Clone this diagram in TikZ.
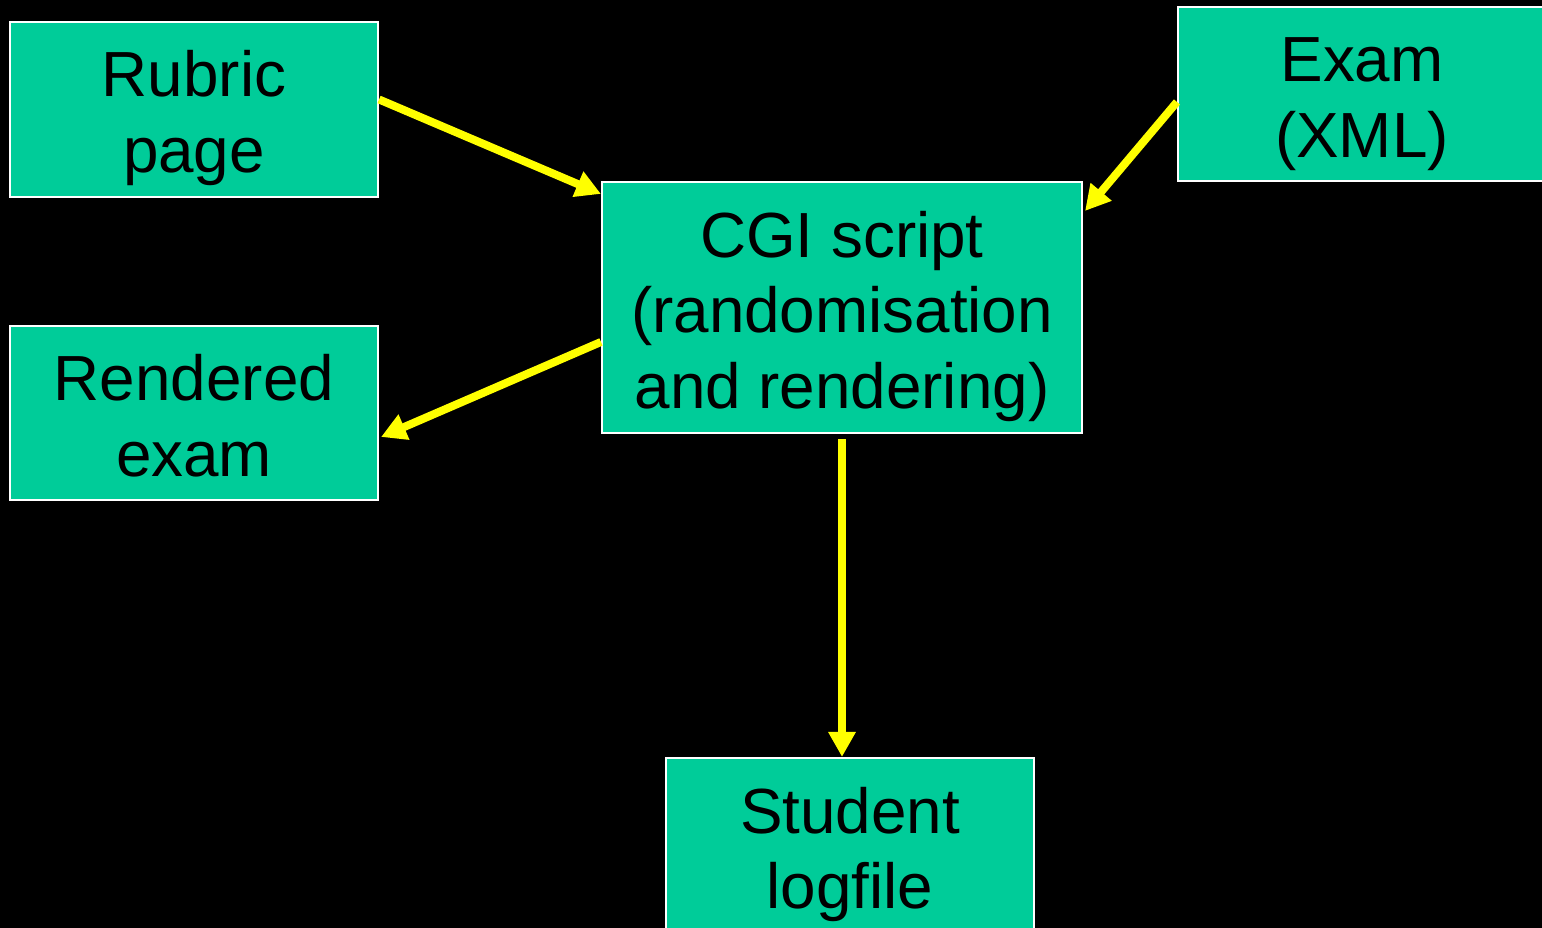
\documentclass[tikz,border=0pt]{standalone}
\usepackage{fontspec}
\setmainfont{Liberation Sans}
\usetikzlibrary{arrows.meta}
\definecolor{boxgreen}{HTML}{00CC99}
\definecolor{arrowyellow}{HTML}{FFFF00}
\newcommand{\boxtop}{\rule{0pt}{19pt}}
\newcommand{\boxbot}{\rule[-4.5pt]{0pt}{0pt}}
\begin{document}
\begin{tikzpicture}[>={Triangle[width=0.26cm,length=0.25cm]},
    box/.style={draw=white,line width=0.6pt,fill=boxgreen,align=center,
      inner sep=0pt,font=\fontsize{18.15}{21.6}\selectfont},
    link/.style={->,draw=arrowyellow,line width=0.08cm}]
    \useasboundingbox (0,0) rectangle (15.42,9.28);
    \clip (0,0) rectangle (15.42,9.28);
    \fill[black] (0,0) rectangle (15.42,9.28);
    \node[box,minimum width=3.68cm,minimum height=1.75cm] (rubric) at (1.94,8.185) {\boxtop Rubric\\page\boxbot};
    \node[box,minimum width=3.68cm,minimum height=1.74cm] (exam) at (13.62,8.34) {\boxtop Exam\\(XML)\boxbot};
    \node[box,minimum width=4.80cm,minimum height=2.51cm] (cgi) at (8.42,6.205) {\boxtop CGI script\\(randomisation\\and rendering)\boxbot};
    \node[box,minimum width=3.68cm,minimum height=1.74cm] (rendered) at (1.94,5.15) {\boxtop Rendered\\exam\boxbot};
    \node[box,minimum width=3.68cm,minimum height=1.75cm] (student) at (8.50,0.825) {\boxtop Student\\logfile\boxbot};
    \draw[link]([yshift=1mm]rubric.east)--([yshift=-1.3mm]cgi.north west);
    \draw[link]([yshift=-0.8mm]exam.west)--([xshift=0.2mm,yshift=-3mm]cgi.north east);
    \draw[link]([yshift=-3.45mm]cgi.west)--([xshift=0.2mm,yshift=-2.4mm]rendered.east);
    \draw[link]([yshift=-0.5mm]cgi.south)--(cgi.south |- student.north);
\end{tikzpicture}
\end{document}
